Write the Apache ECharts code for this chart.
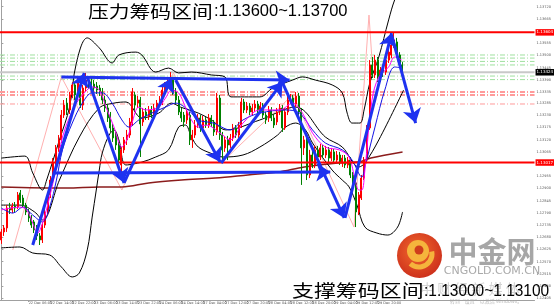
<!DOCTYPE html>
<html><head><meta charset="utf-8">
<script src="https://cdn.jsdelivr.net/npm/echarts@6/dist/echarts.min.js"></script>
<style>html,body{margin:0;padding:0;background:#fff}#c{width:554px;height:306px}</style>
</head><body><div id="c"></div>
<script>
// ---- data ----
const barCount = 196;
const xTickLabels = ["21 Dec 22:00","22 Dec 06:00","22 Dec 14:00","22 Dec 22:00","23 Dec 06:00","23 Dec 14:00","23 Dec 22:00","24 Dec 06:00","24 Dec 14:00","27 Dec 04:00","27 Dec 12:00","27 Dec 20:00","28 Dec 04:00","28 Dec 12:00","28 Dec 20:00","29 Dec 04:00","29 Dec 12:00","29 Dec 20:00","30 Dec 04:00"];
const yTickValues = [1.12405,1.12460,1.12515,1.12570,1.12625,1.12680,1.12735,1.12790,1.12845,1.12900,1.12955,1.13065,1.13120,1.13175,1.13230,1.13285,1.13335,1.13390,1.13445,1.13500,1.13555,1.13665,1.13720];

// [open, close, low, high]
const candles = [
[1.12668,1.12704,1.12650,1.12717],[1.12704,1.12722,1.12686,1.12735],[1.12722,1.12812,1.12704,1.12825],[1.12812,1.12803,1.12785,1.12835],
[1.12803,1.12821,1.12789,1.12835],[1.12821,1.12812,1.12794,1.12839],[1.12816,1.12871,1.12807,1.12884],[1.12880,1.12848,1.12835,1.12893],
[1.12857,1.12825,1.12812,1.12871],[1.12825,1.12794,1.12780,1.12835],[1.12794,1.12767,1.12749,1.12807],[1.12767,1.12735,1.12722,1.12780],
[1.12749,1.12713,1.12699,1.12758],[1.12722,1.12686,1.12668,1.12735],[1.12686,1.12668,1.12645,1.12699],[1.12668,1.12735,1.12654,1.12749],
[1.12735,1.12794,1.12722,1.12807],[1.12794,1.12871,1.12780,1.12884],[1.12871,1.12938,1.12857,1.12956],[1.12938,1.13019,1.12925,1.13037],
[1.13019,1.13083,1.13006,1.13096],[1.13083,1.13119,1.13065,1.13141],[1.13119,1.13231,1.13105,1.13254],[1.13231,1.13276,1.13218,1.13299],
[1.13285,1.13254,1.13231,1.13308],[1.13254,1.13322,1.13236,1.13335],[1.13322,1.13367,1.13308,1.13380],[1.13367,1.13322,1.13299,1.13380],
[1.13322,1.13380,1.13308,1.13398],[1.13353,1.13276,1.13263,1.13367],[1.13276,1.13353,1.13254,1.13367],[1.13353,1.13389,1.13335,1.13421],
[1.13389,1.13367,1.13353,1.13403],[1.13380,1.13362,1.13344,1.13398],[1.13371,1.13353,1.13335,1.13389],[1.13362,1.13344,1.13326,1.13380],
[1.13353,1.13335,1.13317,1.13367],[1.13335,1.13299,1.13281,1.13353],[1.13299,1.13263,1.13245,1.13317],[1.13263,1.13218,1.13200,1.13281],
[1.13231,1.13173,1.13155,1.13245],[1.13173,1.13128,1.13110,1.13191],[1.13137,1.13096,1.13074,1.13155],[1.13096,1.13028,1.12992,1.13110],
[1.13006,1.13074,1.12974,1.13087],[1.13074,1.13119,1.13060,1.13132],[1.13119,1.13141,1.13096,1.13164],[1.13141,1.13200,1.13128,1.13218],
[1.13195,1.13335,1.13182,1.13353],[1.13322,1.13276,1.13254,1.13335],[1.13285,1.13299,1.13263,1.13317],[1.13299,1.13191,1.13042,1.13313],
[1.13200,1.13245,1.13182,1.13263],[1.13245,1.13227,1.13209,1.13263],[1.13227,1.13254,1.13209,1.13272],[1.13254,1.13231,1.13218,1.13272],
[1.13236,1.13263,1.13222,1.13281],[1.13263,1.13285,1.13245,1.13299],[1.13285,1.13299,1.13272,1.13317],[1.13290,1.13344,1.13276,1.13362],
[1.13335,1.13367,1.13322,1.13380],[1.13362,1.13380,1.13344,1.13398],[1.13380,1.13398,1.13367,1.13425],[1.13389,1.13335,1.13322,1.13403],
[1.13335,1.13299,1.13281,1.13353],[1.13299,1.13245,1.13231,1.13317],[1.13245,1.13218,1.13200,1.13263],[1.13231,1.13200,1.13177,1.13245],
[1.13209,1.13245,1.13191,1.13263],[1.13231,1.13119,1.13096,1.13245],[1.13119,1.13141,1.13083,1.13164],[1.13141,1.13186,1.13128,1.13209],
[1.13186,1.13218,1.13173,1.13236],[1.13218,1.13173,1.13155,1.13231],[1.13173,1.13209,1.13159,1.13227],[1.13209,1.13186,1.13173,1.13222],
[1.13186,1.13218,1.13173,1.13236],[1.13218,1.13191,1.13177,1.13231],[1.13191,1.13155,1.13137,1.13209],[1.13155,1.13308,1.13141,1.13331],
[1.13308,1.13141,1.13119,1.13322],[1.13141,1.13074,1.13015,1.13155],[1.13083,1.13119,1.13065,1.13137],[1.13119,1.13096,1.13028,1.13137],
[1.13096,1.13128,1.13083,1.13146],[1.13128,1.13173,1.13114,1.13191],[1.13173,1.13141,1.13128,1.13186],[1.13141,1.13186,1.13128,1.13200],
[1.13186,1.13290,1.13173,1.13308],[1.13290,1.13254,1.13240,1.13304],[1.13254,1.13272,1.13240,1.13290],[1.13272,1.13245,1.13231,1.13285],
[1.13245,1.13263,1.13231,1.13281],[1.13263,1.13281,1.13245,1.13299],[1.13281,1.13254,1.13240,1.13295],[1.13254,1.13272,1.13240,1.13290],
[1.13272,1.13231,1.13218,1.13285],[1.13231,1.13209,1.13191,1.13245],[1.13218,1.13254,1.13200,1.13272],[1.13254,1.13218,1.13204,1.13267],
[1.13218,1.13186,1.13173,1.13236],[1.13200,1.13245,1.13186,1.13263],[1.13245,1.13263,1.13231,1.13281],[1.13263,1.13173,1.13155,1.13276],
[1.13173,1.13245,1.13164,1.13263],[1.13245,1.13299,1.13231,1.13317],[1.13299,1.13308,1.13281,1.13326],[1.13308,1.13281,1.13267,1.13322],
[1.13281,1.13317,1.13267,1.13335],[1.13317,1.13245,1.13227,1.13331],[1.13245,1.13083,1.12916,1.13263],[1.13083,1.13119,1.13051,1.13137],
[1.13119,1.12961,1.12938,1.13137],[1.12961,1.13051,1.12947,1.13074],[1.13051,1.13006,1.12992,1.13074],[1.13006,1.13074,1.12992,1.13092],
[1.13074,1.13042,1.13028,1.13092],[1.13042,1.13083,1.13028,1.13101],[1.13083,1.13051,1.13037,1.13096],[1.13051,1.13074,1.13037,1.13092],
[1.13074,1.13037,1.13019,1.13087],[1.13037,1.13065,1.13024,1.13083],[1.13065,1.13028,1.13015,1.13078],[1.13028,1.13051,1.13015,1.13069],
[1.13051,1.13019,1.13006,1.13065],[1.13019,1.13037,1.12997,1.13051],[1.13037,1.13006,1.12992,1.13051],[1.13006,1.13028,1.12992,1.13042],
[1.13028,1.12961,1.12947,1.13042],[1.12961,1.12916,1.12893,1.12974],[1.12925,1.12794,1.12726,1.12938],[1.12794,1.12871,1.12780,1.12884],
[1.12857,1.12947,1.12848,1.12961],[1.12947,1.13028,1.12938,1.13042],[1.13028,1.13173,1.13019,1.13186],[1.13173,1.13457,1.13164,1.13479],
[1.13457,1.13412,1.13398,1.13493],[1.13412,1.13479,1.13398,1.13502],[1.13479,1.13398,1.13380,1.13493],[1.13398,1.13434,1.13380,1.13448],
[1.13434,1.13425,1.13403,1.13448],[1.13425,1.13479,1.13412,1.13493],[1.13479,1.13515,1.13466,1.13534],[1.13502,1.13547,1.13488,1.13561],
[1.13547,1.13570,1.13534,1.13601],[1.13561,1.13502,1.13488,1.13579],[1.13502,1.13457,1.13443,1.13515],[1.13457,1.13425,1.13412,1.13470]
];

// indicator lines: [bar index, price]
const upperBand = [[0,1.13037],[8.6,1.13046],[11.5,1.12970],[15.1,1.12893],[16.6,1.12938],[21.3,1.13119],[25,1.13267],[27.5,1.13466],[31.5,1.13579],[35.9,1.13534],[40.6,1.13466],[43.1,1.13502],[49.3,1.13515],[51.5,1.13502],[56.6,1.13425],[61.3,1.13443],[65,1.13421],[69.7,1.13425],[77,1.13412],[82,1.13403],[84.2,1.13313],[94.8,1.13313],[99.5,1.13353],[106.8,1.13389],[110.4,1.13403],[115.1,1.13389],[121.3,1.13367],[125,1.13331],[126.8,1.13240],[128.6,1.13195],[131.5,1.13195],[133,1.13254],[135.1,1.13376],[138.4,1.13493],[142,1.13660],[144.2,1.13750],[146.8,1.13818]];
const middleBand = [[0,1.12825],[6.8,1.12825],[12.2,1.12794],[15.1,1.12758],[21.3,1.12938],[28.6,1.13132],[35.9,1.13263],[41.3,1.13285],[45.7,1.13290],[51.5,1.13218],[57.7,1.13240],[62.4,1.13285],[65.7,1.13267],[72.2,1.13240],[77,1.13209],[82.4,1.13164],[94.8,1.13209],[107.9,1.13267],[118.8,1.13132],[125,1.13087],[131.1,1.12997],[133.3,1.13015],[138.4,1.13119],[147.5,1.13344]];
const lowerBand = [[0,1.12632],[6.8,1.12636],[11.5,1.12609],[17.7,1.12600],[22,1.12546],[26,1.12501],[28.6,1.12519],[31.5,1.12623],[33.3,1.12771],[34.8,1.12893],[35.9,1.12983],[37,1.13060],[39.5,1.13141],[41.3,1.13164],[43.1,1.13119],[45.7,1.13006],[51.5,1.13019],[56.6,1.13042],[61.3,1.13074],[65,1.13177],[67.5,1.13186],[69.7,1.13132],[72.2,1.13087],[76.6,1.13060],[81.3,1.13042],[88.6,1.13051],[94.8,1.13087],[101.3,1.13141],[104.2,1.13177],[107.9,1.13195],[111.5,1.13164],[114.1,1.13105],[121.3,1.12983],[125,1.12938],[127.5,1.12907],[130.4,1.12825],[133.3,1.12726],[137.7,1.12699],[141.7,1.12690],[145.3,1.12726],[147.1,1.12794]];
const slowMA = [[0,1.12907],[23.9,1.12902],[35.9,1.12907],[44.2,1.12907],[54,1.12925],[66,1.12938],[78.4,1.12947],[90.4,1.12961],[101.3,1.12974],[111.1,1.12997],[123.5,1.13015],[130.8,1.13019],[135.5,1.13037],[147.1,1.13064]];
const fastMA = [[0,1.12803],[6.8,1.12816],[9.3,1.12803],[11.5,1.12744],[13.3,1.12699],[15.1,1.12744],[17.7,1.12862],[20.2,1.12997],[22.4,1.13132],[25,1.13222],[27.5,1.13285],[30.4,1.13331],[33.3,1.13358],[35.9,1.13344],[38.4,1.13267],[41.3,1.13177],[44.2,1.13087],[46,1.13119],[47.9,1.13195],[50.4,1.13267],[53,1.13254],[57.7,1.13267],[60.2,1.13308],[62.4,1.13344],[65,1.13331],[67.5,1.13267],[69.7,1.13209],[72.2,1.13177],[75.1,1.13186],[80.2,1.13150],[83.9,1.13119],[88.6,1.13195],[94.8,1.13254],[102,1.13254],[106.8,1.13285],[110.4,1.13240],[114.1,1.13150],[118.8,1.13087],[123.9,1.13074],[127.5,1.13042],[129.7,1.12938],[131.1,1.12893],[132.2,1.12893],[133.3,1.12983],[135.9,1.13299],[138.4,1.13403],[142,1.13448],[144.2,1.13493],[146.8,1.13479]];
const midMA = [[0,1.12812],[4.2,1.12789],[7.9,1.12816],[11.5,1.12780],[15.1,1.12749],[17.7,1.12816],[20.2,1.12938],[22.4,1.13074],[26,1.13195],[29.7,1.13285],[33.3,1.13331],[37,1.13331],[40.6,1.13285],[44.2,1.13209],[46.8,1.13177],[50.4,1.13209],[55.1,1.13240],[60.2,1.13267],[63.9,1.13285],[68.6,1.13254],[72.2,1.13209],[77.7,1.13195],[83.9,1.13164],[88.6,1.13209],[94.8,1.13240],[104.2,1.13254],[109.3,1.13240],[114.1,1.13164],[118.8,1.13105],[125,1.13074],[128.6,1.13028],[132.2,1.12952],[133.3,1.12997],[137,1.13177],[140.6,1.13344],[144.2,1.13448],[146.8,1.13443]];
const zigzag = [[4.2,1.12623],[22,1.13403],[44.2,1.12893],[63.1,1.13421],[80.6,1.13015],[106.8,1.13322],[129.3,1.12726],[134.8,1.13682],[135.9,1.13479]];

// hand-drawn blue arrows: [[start],[end]]
const arrowSegments = [
  [[11.5,1.12645],[30.4,1.13421]],
  [[31.5,1.13403],[45.0,1.12925]],
  [[45.0,1.12925],[62.4,1.13398]],
  [[63.9,1.13389],[80.2,1.13019]],
  [[80.6,1.13015],[103.1,1.13380]],
  [[103.1,1.13376],[125.7,1.12767]],
  [[126.0,1.12767],[143.1,1.13601]],
  [[143.1,1.13592],[151.9,1.13195]],
  [[22.0,1.13403],[105.7,1.13389]],
  [[18.8,1.12970],[120.6,1.12974]]
];

// horizontal levels
const resistanceLevel = 1.13604;
const supportLevel = 1.13017;
const currentPrice = 1.13424;
const greenLevels = [1.13502,1.13488,1.13473,1.13457,1.13407,1.13391];
const pinkLevels = [1.13335,1.13321,1.13281];

const titleTopCn = "压力筹码区间", titleTopNum = ":1.13600~1.13700";
const titleBottomCn = "支撑筹码区间", titleBottomNum = ":1.13000~1.13100";

// ---- chart ----
const chart = echarts.init(document.getElementById('c'), null, {renderer: 'canvas'});
const categories = Array.from({length: barCount}, (_, i) => String(i));
const tickIdx = i => i >= 2 && (i - 2) % 8 === 0 && (i - 2) / 8 < xTickLabels.length;
const tinyFont = 'DejaVu Sans';

function lineSeries(data, color, width, z, smooth) {
  return {type: 'line', xAxisIndex: 1, yAxisIndex: 0, data: data, showSymbol: false, symbol: 'none',
    smooth: smooth === undefined ? 0.35 : smooth, silent: true, z: z,
    lineStyle: {color: color, width: width}};
}
function levelSeries(v, color, width, type, z, labelText, labelBg) {
  return {type: 'line', xAxisIndex: 1, yAxisIndex: 0, silent: true, z: z, symbol: 'none', showSymbol: false,
    data: [[-0.5, v], [barCount - 0.5, v]],
    lineStyle: {color: color, width: width, type: type},
    endLabel: labelText ? {show: true, formatter: labelText, color: '#fff', backgroundColor: labelBg,
      fontSize: 4, fontFamily: tinyFont, padding: [1.5, 1, 1, 1], distance: 1} : {show: false}};
}

const series = [];
greenLevels.forEach(v => series.push(levelSeries(v, '#9fe09f', 1, [5, 2, 1, 2], 1)));
pinkLevels.forEach((v, k) => series.push(levelSeries(v, '#ff9a9a', k < 2 ? 2 : 1, [5, 2, 1, 2], 1)));
series.push(levelSeries(currentPrice, '#c8c8c8', 2, 'solid', 1, '1.13424', '#000'));
series.push(lineSeries(zigzag, '#ffb0b0', 1, 2, false));
series.push(lineSeries(slowMA, '#8b1c1c', 1.5, 3));
series.push(lineSeries(upperBand, '#000', 1, 3));
series.push(lineSeries(middleBand, '#000', 1, 3));
series.push(lineSeries(lowerBand, '#000', 1, 3));
series.push({type: 'candlestick', xAxisIndex: 0, yAxisIndex: 0, data: candles, barWidth: 1.5, z: 4, silent: true,
  itemStyle: {color: '#ff0000', color0: '#008000', borderColor: '#ff0000', borderColor0: '#008000', borderWidth: 1}});
series.push(lineSeries(midMA, '#1414e6', 1, 5));
series.push(lineSeries(fastMA, '#ff00ff', 1, 5));
series.push(levelSeries(resistanceLevel, '#ff0000', 2, 'solid', 6, '1.13604', '#ff0000'));
series.push(levelSeries(supportLevel, '#ff0000', 2, 'solid', 6, '1.13017', '#ff0000'));
series.push({type: 'lines', coordinateSystem: 'cartesian2d', xAxisIndex: 1, yAxisIndex: 0, z: 8, silent: true,
  symbol: ['none', 'arrow'], symbolSize: 14,
  lineStyle: {color: '#1e32f0', width: 3, opacity: 1, curveness: 0},
  data: arrowSegments.map(s => ({coords: s}))});

const option = {
  animation: false,
  backgroundColor: '#fff',
  grid: {left: 0, right: 15, top: 0, bottom: 6, containLabel: false},
  xAxis: [
    {type: 'category', data: categories, boundaryGap: true,
      axisLine: {lineStyle: {color: '#a0a0a0', width: 1}},
      axisTick: {show: true, alignWithLabel: true, interval: (i) => tickIdx(i), length: 2, lineStyle: {color: '#a0a0a0'}},
      axisLabel: {interval: (i) => tickIdx(i), formatter: (v, i) => tickIdx(i) ? xTickLabels[(i - 2) / 8] : '',
        fontSize: 3.5, fontFamily: tinyFont, color: '#555', align: 'left', margin: 1.5},
      splitLine: {show: false}},
    {type: 'value', min: -0.5, max: barCount - 0.5, show: false}
  ],
  yAxis: [{type: 'value', position: 'right', min: 1.12397, max: 1.13750, scale: true,
    splitLine: {show: false},
    axisLine: {show: true, lineStyle: {color: '#a0a0a0', width: 1}},
    axisTick: {show: true, length: 2, customValues: yTickValues, lineStyle: {color: '#a0a0a0'}},
    axisLabel: {customValues: yTickValues, formatter: v => v.toFixed(5), fontSize: 3.5, fontFamily: tinyFont, color: '#555', margin: 2}
  }],
  series: series,
  graphic: [
    {type: 'text', z: 20, x: 88, y: 11.5, scaleX: 1.26, style: {x: 0, y: 0, text: titleTopCn, textAlign: 'left', textVerticalAlign: 'middle',
      font: '16.5px "Noto Sans CJK SC"', fill: '#000'}},
    {type: 'text', z: 20, x: 214, y: 11.5, style: {x: 0, y: 0, text: titleTopNum, textAlign: 'left', textVerticalAlign: 'middle',
      font: '16.5px "Liberation Sans"', fill: '#000'}},
    {type: 'circle', z: 15, shape: {cx: 419.5, cy: 255.5, r: 22.5},
      style: {fill: new echarts.graphic.RadialGradient(0.45, 0.4, 0.7, [{offset: 0, color: '#f26a2c'}, {offset: 1, color: '#c8281a'}])}},
    {type: 'circle', z: 16, shape: {cx: 418, cy: 251, r: 11}, style: {fill: '#f5b43c'}},
    {type: 'arc', z: 16, shape: {cx: 419, cy: 254, r: 13, startAngle: -0.2, endAngle: 2.3},
      style: {stroke: '#f5b43c', lineWidth: 5, fill: null}},
    {type: 'circle', z: 17, shape: {cx: 419, cy: 250, r: 4.5}, style: {fill: '#cf3d1c'}},
    {type: 'text', z: 15, style: {x: 492, y: 252, text: '中金网', textAlign: 'center', textVerticalAlign: 'middle',
      font: 'bold 29px "Noto Sans CJK SC"', fill: 'rgba(150,150,150,0.85)'}},
    {type: 'text', z: 15, style: {x: 492, y: 271, text: 'CNGOLD.COM.CN', textAlign: 'center', textVerticalAlign: 'middle',
      font: '11px "DejaVu Sans"', fill: 'rgba(160,160,160,0.9)'}},
    {type: 'text', z: 15, style: {x: 470, y: 289, text: '中 财 经 新 媒 体', textAlign: 'center', textVerticalAlign: 'middle',
      font: '14px "Noto Sans CJK SC"', fill: 'rgba(200,200,200,0.8)'}},
    {type: 'text', z: 15, style: {x: 486, y: 301, text: '转到“设置”以激活 Windows。', textAlign: 'center', textVerticalAlign: 'middle',
      font: '5px "Noto Sans CJK SC"', fill: 'rgba(170,170,170,0.8)'}},
    {type: 'text', z: 20, x: 292, y: 291, scaleX: 1.29, style: {x: 0, y: 0, text: titleBottomCn, textAlign: 'left', textVerticalAlign: 'middle',
      font: '17px "Noto Sans CJK SC"', fill: '#000'}},
    {type: 'text', z: 20, x: 424, y: 291, scaleX: 0.91, style: {x: 0, y: 0, text: titleBottomNum, textAlign: 'left', textVerticalAlign: 'middle',
      font: '17px "Liberation Sans"', fill: '#000'}}
  ]
};
chart.setOption(option);
</script>
</body></html>
